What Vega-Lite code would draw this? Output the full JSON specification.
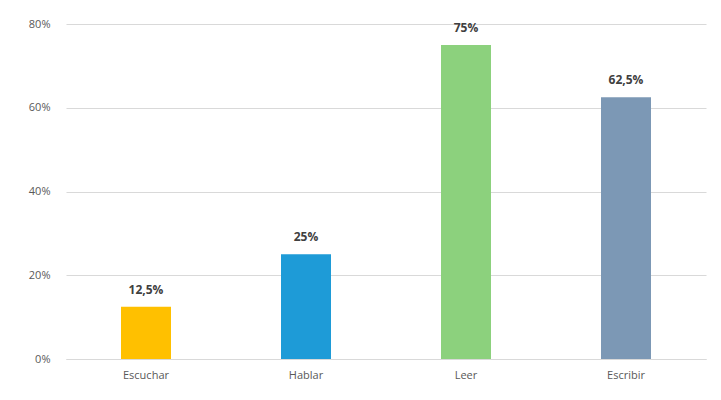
{
  "$schema": "https://vega.github.io/schema/vega-lite/v6.json",
  "width": 640,
  "height": 335,
  "autosize": {"type": "none"},
  "padding": {"left": 66, "top": 24, "right": 15, "bottom": 41},
  "background": "white",
  "config": {
    "view": {"stroke": null},
    "font": "Open Sans",
    "axis": {"labelFont": "Open Sans", "labelColor": "#595959", "labelFontSize": 11}
  },
  "data": {
    "values": [
      {"skill": "Escuchar", "value": 0.125, "label": "12,5%"},
      {"skill": "Hablar", "value": 0.25, "label": "25%"},
      {"skill": "Leer", "value": 0.75, "label": "75%"},
      {"skill": "Escribir", "value": 0.625, "label": "62,5%"}
    ]
  },
  "encoding": {
    "x": {
      "field": "skill", "type": "nominal", "sort": null,
      "scale": {"paddingInner": 0.6875, "paddingOuter": 0.34375},
      "axis": {"title": null, "labelAngle": 0, "domain": true, "domainColor": "#D9D9D9", "ticks": false, "labelPadding": 10}
    },
    "y": {
      "field": "value", "type": "quantitative",
      "scale": {"domain": [0, 0.8]},
      "axis": {"title": null, "format": ".0%", "values": [0, 0.2, 0.4, 0.6, 0.8], "domain": false, "ticks": false, "gridColor": "#D9D9D9", "labelPadding": 16}
    }
  },
  "layer": [
    {
      "mark": {"type": "bar"},
      "encoding": {
        "color": {
          "field": "skill", "type": "nominal", "legend": null,
          "scale": {"domain": ["Escuchar", "Hablar", "Leer", "Escribir"], "range": ["#FFC000", "#1E9BD7", "#8CD17D", "#7C98B5"]}
        }
      }
    },
    {
      "mark": {"type": "text", "dy": -17, "fontWeight": "bold", "fontSize": 12, "color": "#404040"},
      "encoding": {"text": {"field": "label"}}
    }
  ]
}
